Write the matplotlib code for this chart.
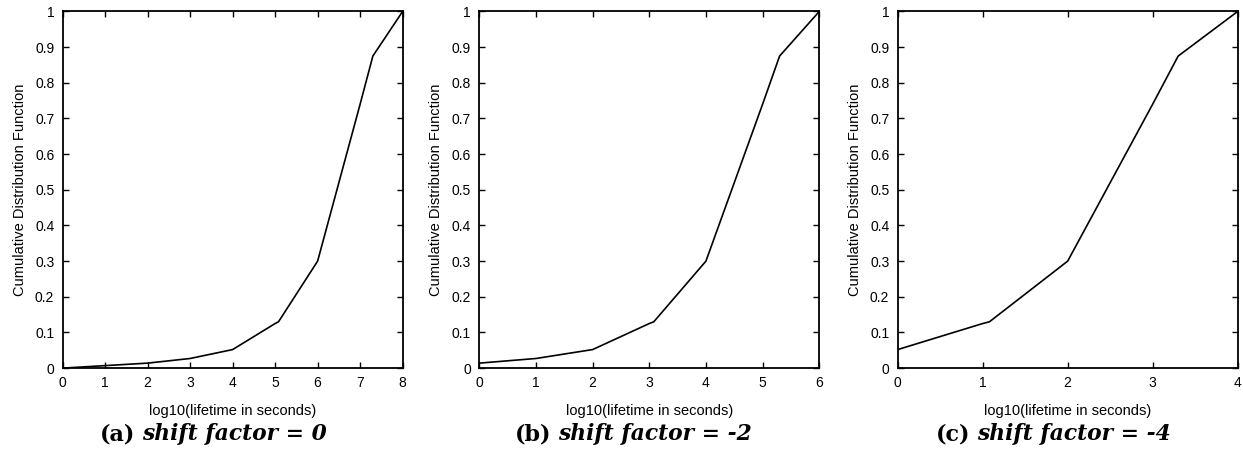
import numpy as np
import matplotlib
matplotlib.use("Agg")
import matplotlib.pyplot as plt
from matplotlib.ticker import MultipleLocator, FormatStrFormatter

# CDF of log10(lifetime in seconds), unshifted
lifetime = [0, 1, 2, 3, 4, 5, 5.08, 6, 7, 7.3, 8]
cdf = [0.0, 0.007, 0.014, 0.027, 0.052, 0.125, 0.13, 0.30, 0.74, 0.875, 1.0]

shift_factors = [0, -2, -4]
panel_letters = ["(a)", "(b)", "(c)"]

plt.rcParams["font.family"] = ["Liberation Sans", "DejaVu Sans"]

fig = plt.figure(figsize=(12.43, 4.59), dpi=100)
lefts = [0.0504, 0.3856, 0.7222]

for left, shift, letter in zip(lefts, shift_factors, panel_letters):
    ax = fig.add_axes([left, 0.198, 0.2735, 0.777])
    x = np.array(lifetime) + shift
    ax.plot(x, cdf, color="black", lw=1.2)
    ax.set_xlim(0, 8 + shift)
    ax.set_ylim(0, 1)
    ax.xaxis.set_major_locator(MultipleLocator(1))
    ax.yaxis.set_major_locator(MultipleLocator(0.1))
    ax.yaxis.set_major_formatter(FormatStrFormatter("%g"))
    ax.tick_params(direction="in", top=True, right=True, length=4, width=1,
                   labelsize=10, pad=6)
    for s in ax.spines.values():
        s.set_linewidth(1.3)
    ax.set_xlabel("log10(lifetime in seconds)", fontsize=10.5, labelpad=10)
    ax.set_ylabel("Cumulative Distribution Function", fontsize=10.5, labelpad=6)

    # caption below each panel
    ax.text(0.213, -0.185, letter, transform=ax.transAxes, ha="right", va="center",
            family="DejaVu Serif", fontweight="bold", fontsize=16)
    ax.text(0.233, -0.185, "shift factor = %d" % shift, transform=ax.transAxes,
            ha="left", va="center", family="DejaVu Serif", fontweight="bold",
            fontstyle="italic", fontsize=15.7)

fig.savefig("out.png", dpi=100)
